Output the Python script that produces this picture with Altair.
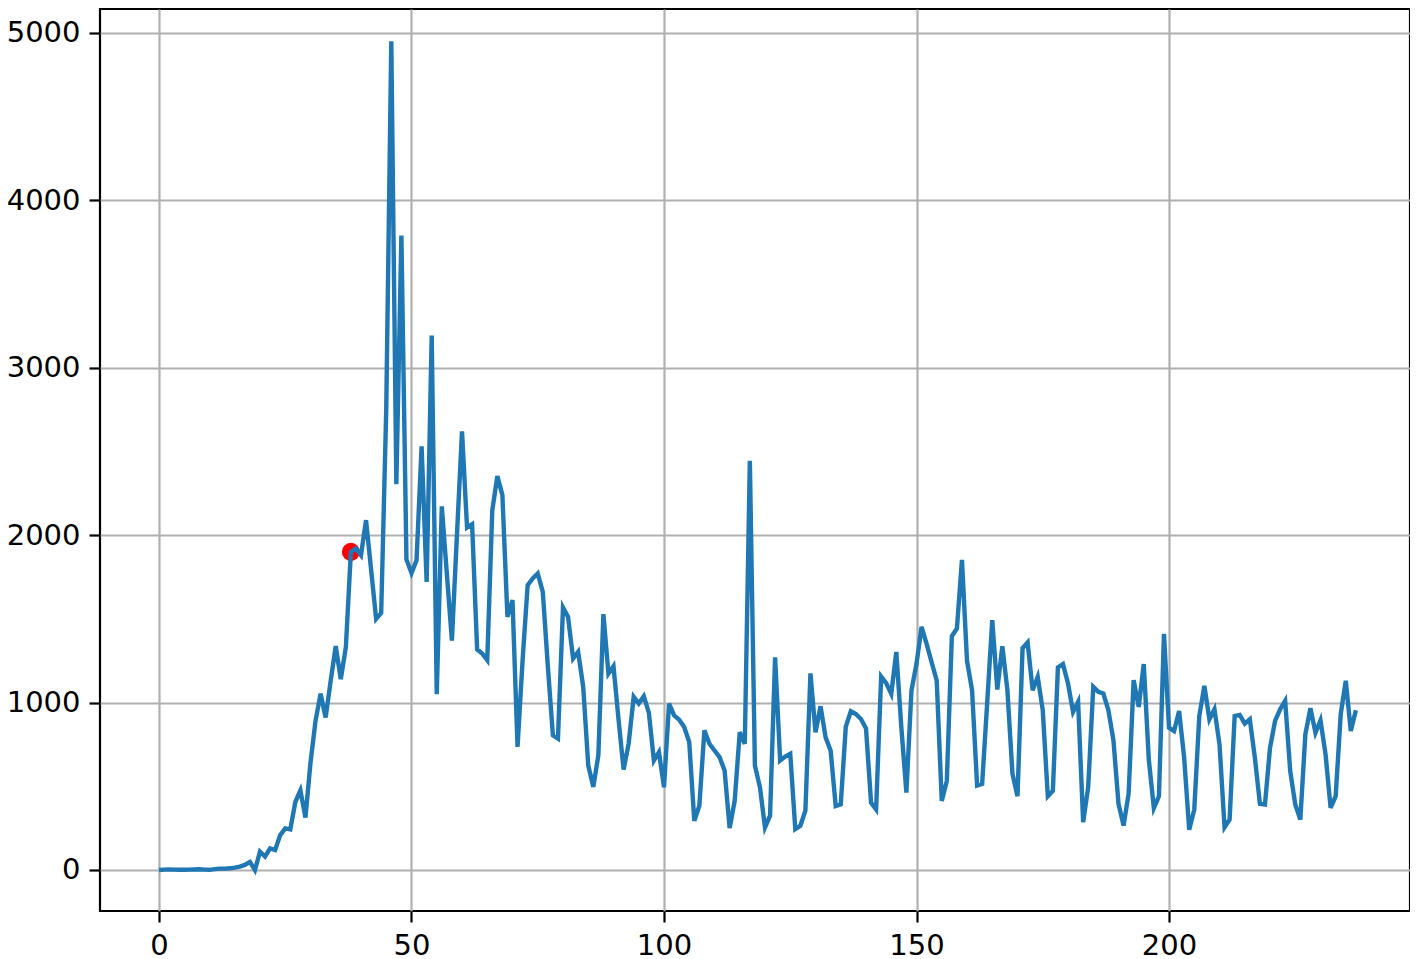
import altair as alt
import pandas as pd

values = [
    0, 2, 3, 2, 1, 1, 2, 3, 4, 2,
    1, 5, 8, 8, 10, 14, 20, 30, 48, 0,
    109, 80, 129, 119, 208, 248, 242, 406, 475, 313,
    640, 891, 1053, 911, 1130, 1337, 1140, 1330, 1900, 1920,
    1880, 2090, 1795, 1500, 1535, 2750, 4950, 2305, 3790, 1855,
    1774, 1850, 2530, 1720, 3192, 1050, 2172, 1770, 1370, 2000,
    2620, 2045, 2065, 1318, 1293, 1253, 2149, 2353, 2239, 1512,
    1612, 735, 1253, 1701, 1741, 1771, 1661, 1216, 805, 785,
    1568, 1512, 1263, 1303, 1094, 625, 496, 685, 1528, 1173,
    1217, 898, 600, 755, 1034, 994, 1038, 940, 654, 704,
    494, 994, 924, 898, 854, 764, 294, 384, 834, 754,
    714, 674, 594, 250, 414, 824, 754, 2444, 624, 494,
    254, 324, 1270, 654, 678, 694, 244, 264, 354, 1174,
    822, 978, 792, 712, 382, 392, 856, 948, 932, 902,
    846, 402, 362, 1156, 1116, 1052, 1302, 850, 462, 1072,
    1232, 1452, 1350, 1240, 1132, 412, 532, 1396, 1442, 1852,
    1250, 1074, 505, 515, 1000, 1493, 1078, 1337, 1074, 575,
    441, 1325, 1359, 1074, 1154, 954, 441, 473, 1210, 1230,
    1114, 944, 1004, 285, 495, 1094, 1064, 1054, 954, 774,
    395, 265, 455, 1134, 974, 1230, 660, 370, 440, 1410,
    850, 830, 950, 670, 240, 360, 920, 1100, 900, 960,
    750, 255, 301, 920, 926, 874, 900, 671, 395, 391,
    730, 890, 960, 1010, 591, 391, 301, 810, 966, 820,
    894, 690, 371, 441, 930, 1130, 830, 954,
]
days = list(range(len(values)))

highlight_x = [38]
highlight_y = [1900]

x_ticks = [0, 50, 100, 150, 200]
y_ticks = [0, 1000, 2000, 3000, 4000, 5000]

df = pd.DataFrame({"x": days, "y": values})
hi = pd.DataFrame({"x": highlight_x, "y": highlight_y})

xs = alt.Scale(domain=[-11.68, 247.72], nice=False, zero=False)
ys = alt.Scale(domain=[-245, 5143], nice=False, zero=False)

xax = alt.Axis(values=x_ticks, format="d", title=None)
yax = alt.Axis(values=y_ticks, format="d", title=None)

point = alt.Chart(hi).mark_circle(color="#ff0000", opacity=1, size=330).encode(
    x=alt.X("x:Q", scale=xs, axis=xax),
    y=alt.Y("y:Q", scale=ys, axis=yax),
)

line = alt.Chart(df).mark_line(color="#1f77b4", strokeWidth=4.4).encode(
    x=alt.X("x:Q", scale=xs, axis=xax),
    y=alt.Y("y:Q", scale=ys, axis=yax),
)

chart = (
    alt.layer(point, line)
    .properties(
        width=1310,
        height=902,
        autosize=alt.AutoSizeParams(type="none"),
        padding={"left": 92, "top": 1, "right": 0, "bottom": 50},
    )
    .configure_view(stroke="black", strokeWidth=2.2)
    .configure_axis(
        labelFont="DejaVu Sans",
        labelFontSize=29,
        labelColor="black",
        tickColor="black",
        tickWidth=2.2,
        tickSize=11,
        labelPadding=9,
        domain=False,
        grid=True,
        gridColor="#b0b0b0",
        gridWidth=2.2,
    )
)

chart.save("out.html", embed_options={"renderer": "svg", "actions": False})
